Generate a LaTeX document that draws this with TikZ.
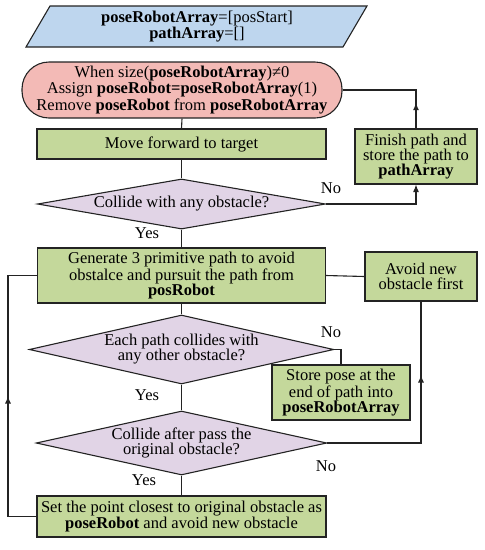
\documentclass[tikz,border=0pt]{standalone}
\usepackage{fontspec}
\setmainfont{Liberation Serif}
\usetikzlibrary{shapes.geometric,arrows.meta,calc}
\definecolor{initblue}{RGB}{190,214,238}
\definecolor{startred}{RGB}{243,186,182}
\definecolor{procgreen}{RGB}{196,216,155}
\definecolor{decpurple}{RGB}{225,212,230}
\definecolor{linec}{RGB}{35,35,35}
\begin{document}
\begin{tikzpicture}[x=1pt,y=-1pt,line width=1.1pt,draw=linec,
  font=\fontsize{16.5pt}{15pt}\selectfont,
  proc/.style={draw=linec,fill=procgreen,rectangle,inner sep=0pt,align=center},
  dec/.style={draw=linec,fill=decpurple,diamond,inner sep=0pt,align=center,aspect=5},
  tip/.style={-{Latex[length=7.5pt,width=6pt]}},
  lbl/.style={inner sep=1pt}]
\useasboundingbox (0,0) rectangle (485,550);
% init parallelogram
\path[draw=linec,fill=initblue] (26,47) -- (50,6) -- (367,6) -- (343,47) -- cycle;
\node[align=center,inner sep=0pt] (init) at (197,27) {\textbf{poseRobotArray}=[posStart]\\\textbf{pathArray}=[]};
% start
\node[draw=linec,fill=startred,rectangle,rounded corners=27pt,minimum width=320pt,minimum height=56pt,inner sep=0pt,align=center] (start) at (182,90)
  {When size(\textbf{poseRobotArray})≠0\\Assign \textbf{poseRobot=poseRobotArray}(1)\\Remove \textbf{poseRobot} from \textbf{poseRobotArray}};
\node[proc,minimum width=289pt,minimum height=30pt] (move) at (181.5,144) {Move forward to target};
\node[dec,minimum width=288pt,minimum height=48pt] (d1) at (181.5,204) {Collide with any obstacle?};
\node[proc,minimum width=122pt,minimum height=55pt] (finish) at (416,156.5) {Finish path and\\store the path to\\\textbf{pathArray}};
\node[proc,minimum width=288pt,minimum height=55pt] (gen) at (181.5,275.5) {Generate 3 primitive path to avoid\\obstalce and pursuit the path from\\\textbf{posRobot}};
\node[proc,minimum width=112pt,minimum height=49pt] (avoid) at (421,276.5) {Avoid new\\obstacle first};
\node[dec,minimum width=287pt,minimum height=69pt] (d2) at (181.5,349.5) {Each path collides with\\any other obstacle?};
\node[proc,minimum width=138pt,minimum height=55pt] (store) at (341,392.5) {Store pose at the\\end of path into\\\textbf{poseRobotArray}};
\node[dec,minimum width=287pt,minimum height=64pt] (d3) at (181.5,443) {Collide after pass the\\original obstacle?};
\node[proc,minimum width=289pt,minimum height=41pt] (set) at (181.5,516.5) {Set the point closest to original obstacle as\\\textbf{poseRobot} and avoid new obstacle};
% connectors
\draw (start.south) -- (move.north);
\draw (move.south) -- (d1.north);
\draw[tip] (d1.east) -- (finish.south |- d1.east) -- (finish.south);
\node[lbl] (no1) at (331,188) {No};
\coordinate (c1) at (finish.north |- start.east);
\draw (finish.north) -- (c1) -- (start.east);
\draw[tip] (finish.north) -- ($(finish.north)!0.67!(c1)$);
\draw (d1.south) -- (gen.north);
\node[lbl] (yes1) at (147,233) {Yes};
\draw (gen.east) -- (avoid.west);
\coordinate (l1) at (8,516.5);
\coordinate (l2) at (8,275.5);
\draw (set.west) -- (l1) -- (l2) -- (gen.west);
\draw[tip] (l1) -- (8,396);
\draw (gen.south) -- (d2.north);
\draw (d2.east) -- (store.north |- d2.east) -- (store.north);
\node[lbl] (no2) at (331,332) {No};
\draw (d2.south) -- (d3.north);
\node[lbl] (yes2) at (147,395) {Yes};
\coordinate (r1) at (avoid.south |- d3.east);
\draw (d3.east) -- (r1) -- (avoid.south);
\draw[tip] (r1) -- (421,375);
\node[lbl] (no3) at (326,466) {No};
\draw (d3.south) -- (set.north);
\node[lbl] (yes3) at (144,480) {Yes};
\end{tikzpicture}
\end{document}
